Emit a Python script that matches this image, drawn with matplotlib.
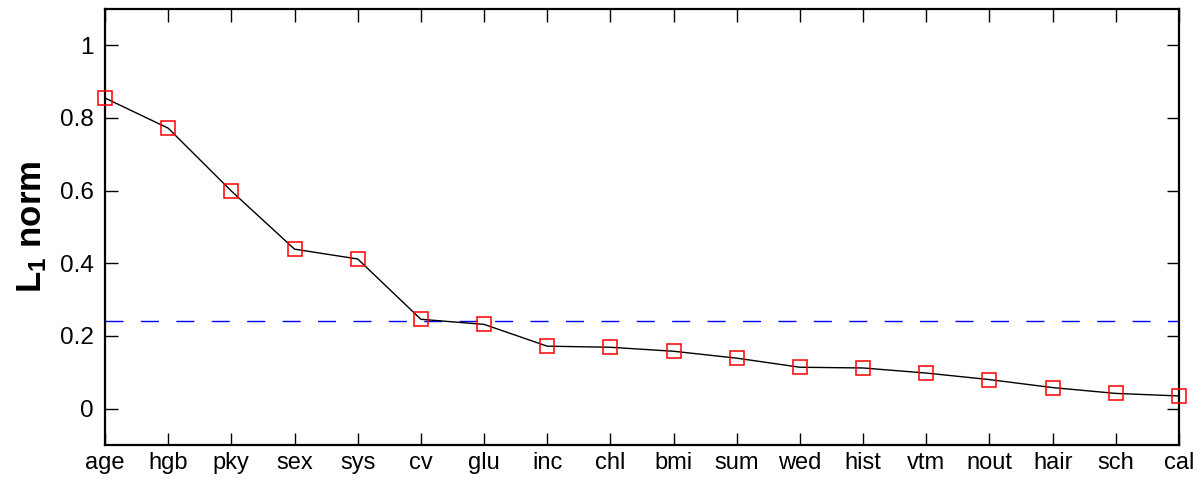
import matplotlib
matplotlib.use("Agg")
import matplotlib.pyplot as plt

plt.rcParams['font.family'] = ['Liberation Sans', 'DejaVu Sans']
plt.rcParams['mathtext.fontset'] = 'custom'
plt.rcParams['mathtext.rm'] = 'Liberation Sans'
plt.rcParams['mathtext.bf'] = 'Liberation Sans:bold'

categories = ['age', 'hgb', 'pky', 'sex', 'sys', 'cv', 'glu', 'inc', 'chl',
              'bmi', 'sum', 'wed', 'hist', 'vtm', 'nout', 'hair', 'sch', 'cal']
l1_norm = [0.855, 0.772, 0.599, 0.439, 0.412, 0.246, 0.232, 0.172, 0.169,
           0.158, 0.139, 0.114, 0.112, 0.098, 0.080, 0.058, 0.042, 0.035]
threshold = 0.24
yticks = [0, 0.2, 0.4, 0.6, 0.8, 1]
ytick_labels = ['0', '0.2', '0.4', '0.6', '0.8', '1']

fig = plt.figure(figsize=(12.04, 4.8), dpi=100)
ax = fig.add_axes([105/1204, 35/480, 1074/1204, 436/480])

x = list(range(1, len(categories) + 1))
ax.axhline(threshold, color='#0000ff', lw=1, dashes=(13, 12.5))
ax.plot(x, l1_norm, color='black', lw=1, marker='s', markersize=10,
        markerfacecolor='none', markeredgecolor='#ff0000', markeredgewidth=1.1,
        clip_on=False, zorder=3)

ax.set_xlim(1, len(categories))
ax.set_ylim(-0.1, 1.1)
ax.set_xticks(x)
ax.set_xticklabels(categories, fontsize=17)
ax.set_yticks(yticks)
ax.set_yticklabels(ytick_labels, fontsize=17.5)
ax.tick_params(direction='in', length=9, width=1, top=True, right=True,
               labelcolor='black', pad=8)
ax.tick_params(axis='x', pad=4.8)
for s in ax.spines.values():
    s.set_linewidth(1.6)

ax.set_ylabel(r'$\mathbf{L_1}$ norm', fontsize=25, fontweight='bold')
ax.yaxis.set_label_coords(-0.052, 0.5)

fig.savefig('out.png', dpi=100)
